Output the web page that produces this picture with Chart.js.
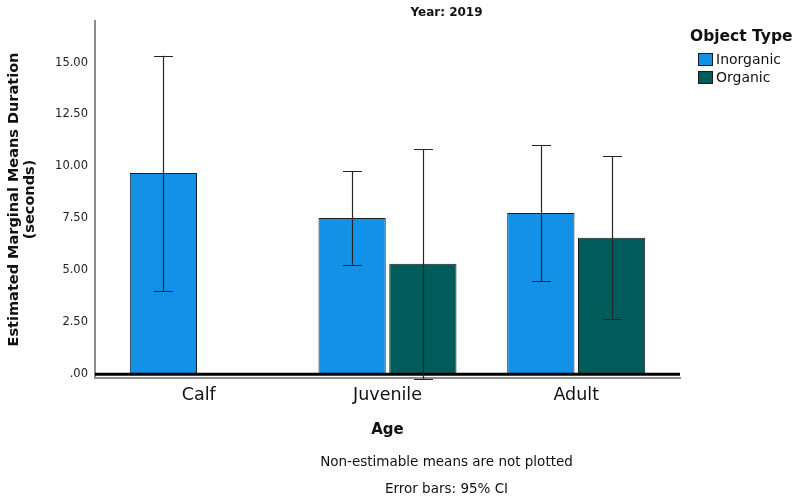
<!DOCTYPE html>
<html>
<head>
<meta charset="utf-8">
<script src="https://cdn.jsdelivr.net/npm/chart.js@4/dist/chart.umd.min.js"></script>
<style>
  html, body { margin: 0; padding: 0; background: #ffffff; }
  #wrap { width: 798px; height: 501px; position: relative; }
</style>
</head>
<body>
<div id="wrap"><canvas id="c" width="798" height="501"></canvas></div>
<script>
// Estimated marginal means of duration by age group, year 2019
const ageGroups = ['Calf', 'Juvenile', 'Adult'];
const objectTypes = ['Inorganic', 'Organic'];
const inorganicMeans = [9.69, 7.52, 7.76];
const organicMeans = [null, 5.32, 6.57];          // calf / organic is non-estimable
const inorganicCiLow = [4.00, 5.27, 4.47];
const inorganicCiHigh = [15.33, 9.76, 11.05];
const organicCiLow = [null, -0.22, 2.67];
const organicCiHigh = [null, 10.84, 10.49];
const yTickValues = [0, 2.5, 5, 7.5, 10, 12.5, 15];
const yTickLabels = ['.00', '2.50', '5.00', '7.50', '10.00', '12.50', '15.00'];
const seriesColors = ['#1391e6', '#005c5a'];

const chartTitle = 'Year: 2019';
const legendTitle = 'Object Type';
const footnotes = ['Non-estimable means are not plotted', 'Error bars: 95% CI'];

const FONT = '"DejaVu Sans", "Noto Sans", sans-serif';

const toPoints = (vals) => ageGroups.map((g, i) => ({ x: i, y: vals[i] }));

// Thick reference line at zero
const zeroLine = {
  id: 'zeroLine',
  afterDatasetsDraw(chart) {
    const { ctx, chartArea, scales: { y } } = chart;
    const py = y.getPixelForValue(0);
    ctx.save();
    ctx.strokeStyle = '#000000';
    ctx.lineWidth = 3;
    ctx.beginPath();
    ctx.moveTo(chartArea.left, py);
    ctx.lineTo(chartArea.right, py);
    ctx.stroke();
    ctx.restore();
  }
};

// 95% CI whiskers drawn on each bar
const errorBars = {
  id: 'errorBars',
  afterDatasetsDraw(chart) {
    const { ctx, scales: { y } } = chart;
    ctx.save();
    ctx.strokeStyle = '#262626';
    ctx.lineWidth = 1.2;
    chart.data.datasets.forEach((ds, di) => {
      const meta = chart.getDatasetMeta(di);
      meta.data.forEach((bar, i) => {
        const lo = ds.ciLow[i], hi = ds.ciHigh[i];
        if (lo == null || hi == null || ds.data[i].y == null) return;
        const x = Math.round(bar.x) + 0.5;
        const yl = y.getPixelForValue(lo);
        const yh = y.getPixelForValue(hi);
        const cap = 9.5;
        ctx.beginPath();
        ctx.moveTo(x, yl); ctx.lineTo(x, yh);
        ctx.moveTo(x - cap, Math.round(yh) + 0.5); ctx.lineTo(x + cap, Math.round(yh) + 0.5);
        ctx.moveTo(x - cap, Math.round(yl) + 0.5); ctx.lineTo(x + cap, Math.round(yl) + 0.5);
        ctx.stroke();
      });
    });
    ctx.restore();
  }
};

// Panel title, legend and footnotes
const annotations = {
  id: 'annotations',
  afterDraw(chart) {
    const { ctx, chartArea } = chart;
    const cx = (chartArea.left + chart.width) / 2;
    ctx.save();
    ctx.fillStyle = '#111111';
    ctx.textAlign = 'center';
    ctx.textBaseline = 'middle';
    ctx.font = 'bold 12px ' + FONT;
    ctx.fillText(chartTitle, cx, 13);
    ctx.font = '13.5px ' + FONT;
    ctx.fillText(footnotes[0], cx, 462);
    ctx.fillText(footnotes[1], cx, 489);

    // legend
    const lx = chartArea.right + 10;
    ctx.textAlign = 'left';
    ctx.font = 'bold 15.5px ' + FONT;
    ctx.fillText(legendTitle, lx, 37);
    ctx.font = '14px ' + FONT;
    chart.data.datasets.forEach((ds, i) => {
      const top = 53 + i * 18;
      ctx.fillStyle = ds.backgroundColor;
      ctx.fillRect(lx + 8.5, top + 0.5, 14, 12);
      ctx.strokeStyle = '#1a1a1a';
      ctx.lineWidth = 1;
      ctx.strokeRect(lx + 8.5, top + 0.5, 14, 12);
      ctx.fillStyle = '#111111';
      ctx.fillText(ds.label, lx + 26, top + 7);
    });
    ctx.restore();
  }
};

new Chart(document.getElementById('c'), {
  type: 'bar',
  data: {
    datasets: [
      {
        label: objectTypes[0],
        data: toPoints(inorganicMeans),
        ciLow: inorganicCiLow,
        ciHigh: inorganicCiHigh,
        backgroundColor: seriesColors[0],
        borderColor: '#1c1c1c',
        borderWidth: 1
      },
      {
        label: objectTypes[1],
        data: toPoints(organicMeans),
        ciLow: organicCiLow,
        ciHigh: organicCiHigh,
        backgroundColor: seriesColors[1],
        borderColor: '#1c1c1c',
        borderWidth: 1
      }
    ]
  },
  options: {
    responsive: false,
    animation: false,
    devicePixelRatio: 1,
    categoryPercentage: 0.75,
    barPercentage: 0.95,
    layout: { padding: { top: 21, right: 118, left: 0, bottom: 0 } },
    plugins: {
      legend: { display: false },
      title: { display: false },
      tooltip: { enabled: false }
    },
    scales: {
      x: {
        type: 'linear',
        offset: false,
        min: -0.55,
        max: 2.55,
        afterBuildTicks: (s) => { s.ticks = ageGroups.map((g, i) => ({ value: i })); },
        afterFit: (s) => { s.height = 123; },
        grid: { display: false, drawTicks: false, offset: false },
        border: { display: true, color: '#8c8c8c', width: 2 },
        ticks: {
          autoSkip: false,
          maxRotation: 0,
          padding: 7,
          color: '#111111',
          font: { family: FONT, size: 17.5 },
          callback: (v) => ageGroups[v]
        },
        title: {
          display: true,
          text: 'Age',
          color: '#111111',
          font: { family: FONT, size: 15, weight: 'bold' },
          padding: { top: 0, bottom: 62 }
        }
      },
      y: {
        min: -0.18,
        max: 17.0,
        afterBuildTicks: (s) => { s.ticks = yTickValues.map((v) => ({ value: v })); },
        afterFit: (s) => { s.width = 95; },
        grid: { display: false, drawTicks: false },
        border: { display: true, color: '#8c8c8c', width: 2 },
        ticks: {
          padding: 7,
          color: '#222222',
          font: { family: FONT, size: 11.5 },
          callback: (v) => yTickLabels[yTickValues.indexOf(v)]
        },
        title: {
          display: true,
          text: ['Estimated Marginal Means Duration', '(seconds)'],
          color: '#111111',
          font: { family: FONT, size: 14.5, weight: 'bold', lineHeight: 1.1 },
          padding: { top: 6, bottom: 0 }
        }
      }
    }
  },
  plugins: [zeroLine, errorBars, annotations]
});
</script>
</body>
</html>
